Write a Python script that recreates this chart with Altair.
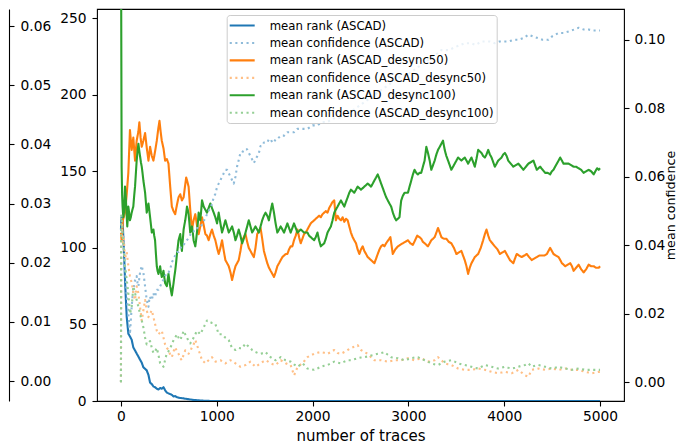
import altair as alt
import pandas as pd

SERIES = [
    "mean rank (ASCAD)",
    "mean confidence (ASCAD)",
    "mean rank (ASCAD_desync50)",
    "mean confidence (ASCAD_desync50)",
    "mean rank (ASCAD_desync100)",
    "mean confidence (ASCAD_desync100)",
]
COLORS = ["#1f77b4", "#8fbbd9", "#ff7f0e", "#ffbf86", "#2ca02c", "#95cf95"]
DASHES = [[1, 0], [2.1, 3.5], [1, 0], [2.1, 3.5], [1, 0], [2.1, 3.5]]

X_TICKS = [0, 1000, 2000, 3000, 4000, 5000]
RANK_TICKS = [0, 50, 100, 150, 200, 250]
CONF_TICKS = [0.0, 0.02, 0.04, 0.06, 0.08, 0.10]
SIDE_TICKS = [0.0, 0.01, 0.02, 0.03, 0.04, 0.05, 0.06]

# (number of traces, mean rank)
rank_ascad = [(0,112),(5,120),(17,118),(30,100),(45,75),(60,55),(77,44),(95,42),(112,40),(129,35),(147,33),(164,31),(182,29),(199,27),(217,25),(234,22),(252,21),(269,20),(287,17),(304,12),(322,11),(339,9.5),(356,9),(374,8),(391,7.5),(409,8.5),(426,8),(444,9),(461,7),(479,5.5),(496,5),(514,4.5),(531,4),(549,3),(566,3.2),(584,2.5),(601,2.2),(619,2),(654,1.7),(689,1.3),(723,1),(758,0.7),(793,0.5),(828,0.3),(863,0.2),(900,0.1),(950,0),(1000,0),(2000,0),(3000,0),(4000,0),(5000,0)]

rank_desync50 = [(0,110),(7,105),(20,118),(42,123),(60,135),(77,149),(94,177),(112,164),(129,172),(147,157),(164,170),(182,176),(192,182),(205,172),(217,166),(234,170),(252,175),(270,165),(287,157),(304,166),(322,160),(339,157),(356,163),(374,170),(390,178),(402,183),(414,176),(426,170),(444,165),(461,157),(479,158),(496,155),(514,140),(531,127),(549,124),(566,122),(584,128),(601,133),(619,135),(636,131),(654,133),(668,140),(681,146),(694,143),(706,140),(723,125),(741,112),(758,118),(776,122),(793,115),(811,109),(828,114),(846,120),(863,115),(881,109),(898,108),(915,105),(933,109),(950,112),(968,108),(985,105),(1003,100),(1020,96),(1038,100),(1055,105),(1073,98),(1090,92),(1108,90),(1125,88),(1143,84),(1160,79),(1178,84),(1195,88),(1212,90),(1229,92),(1247,98),(1265,105),(1282,107),(1300,109),(1317,104),(1334,100),(1352,98),(1369,96),(1387,94),(1404,100),(1422,109),(1440,111),(1457,113),(1474,106),(1492,98),(1509,94),(1527,90),(1545,87),(1562,85),(1580,83),(1597,81),(1614,84),(1632,88),(1650,90),(1667,92),(1685,94),(1702,95),(1720,96),(1737,96),(1754,99),(1771,101),(1789,101),(1806,105),(1824,108),(1842,112),(1859,107),(1876,103),(1894,106),(1911,109),(1928,110),(1946,112),(1963,114),(1981,116),(1998,117),(2016,118),(2033,119),(2051,120),(2068,121),(2086,120),(2103,122),(2121,123),(2138,124),(2156,123),(2173,126),(2191,128),(2208,130),(2226,131),(2243,118),(2261,121),(2278,119),(2296,118),(2313,120),(2331,117),(2348,119),(2366,118),(2383,114),(2400,110),(2418,107),(2435,105),(2453,103),(2470,99),(2488,96),(2505,99),(2523,101),(2540,98),(2558,96),(2575,94),(2593,93),(2610,92),(2628,91),(2645,90),(2663,93),(2680,96),(2698,99),(2715,101),(2733,102),(2750,101),(2767,103),(2790,105),(2812,107),(2837,96),(2863,99),(2890,101),(2915,102),(2942,103),(2970,104),(2995,105),(3020,103),(3047,102),(3070,105),(3092,108),(3115,107),(3134,106),(3150,104),(3169,103),(3187,102),(3204,101),(3222,103),(3239,105),(3257,106),(3274,107),(3292,110),(3309,113),(3327,110),(3344,107),(3370,106),(3396,106),(3420,104),(3448,103),(3475,100),(3501,96),(3527,97),(3553,98),(3570,95),(3588,92),(3606,88),(3623,83),(3640,87),(3658,90),(3676,92),(3693,94),(3710,95),(3728,96),(3755,100),(3780,105),(3798,109),(3815,112),(3833,108),(3850,105),(3876,103),(3902,101),(3930,99),(3955,96),(3980,97),(4007,98),(4033,95),(4060,92),(4077,91),(4095,90),(4112,93),(4130,96),(4156,95),(4182,94),(4210,95),(4235,96),(4260,94),(4287,92),(4313,93),(4340,94),(4366,95),(4392,95),(4418,95),(4445,96),(4462,98),(4479,100),(4497,98),(4514,96),(4540,95),(4567,94),(4585,92),(4602,90),(4620,89),(4637,88),(4663,89),(4689,90),(4707,88),(4724,85),(4750,87),(4777,89),(4803,86),(4829,84),(4855,86),(4881,89),(4908,88),(4934,88),(4960,87),(4986,87),(5000,88)]

rank_desync100 = [(0,320),(5,200),(7,153),(12,135),(17,127),(24,120),(31,123),(37,132),(42,140),(47,136),(52,131),(59,122),(66,114),(72,120),(77,127),(85,123),(94,118),(103,120),(112,123),(120,125),(129,127),(138,134),(147,140),(155,148),(164,157),(173,163),(182,168),(190,164),(199,160),(208,156),(217,153),(225,149),(234,144),(243,140),(252,136),(260,130),(269,123),(278,126),(287,129),(295,125),(304,120),(313,115),(322,110),(330,111),(339,112),(347,108),(356,105),(365,96),(374,88),(382,85),(391,83),(400,85),(409,88),(417,84),(426,81),(435,83),(444,85),(452,81),(461,77),(470,76),(479,75),(487,79),(496,83),(505,79),(514,75),(522,72),(531,69),(540,73),(549,77),(557,81),(566,85),(575,90),(584,96),(592,100),(601,105),(610,107),(619,109),(627,103),(636,98),(645,105),(654,112),(662,115),(671,118),(680,122),(689,127),(697,125),(706,122),(715,116),(723,110),(732,112),(741,114),(750,110),(758,105),(767,103),(776,101),(784,105),(793,110),(802,116),(811,123),(820,120),(828,118),(837,124),(846,131),(855,129),(863,127),(880,125),(898,123),(915,126),(933,129),(950,126),(968,123),(985,120),(1003,116),(1020,123),(1038,116),(1055,110),(1073,114),(1090,118),(1108,114),(1125,110),(1143,112),(1160,114),(1178,110),(1195,105),(1212,108),(1229,112),(1247,108),(1265,103),(1282,106),(1300,110),(1317,114),(1334,118),(1352,114),(1369,110),(1387,112),(1404,114),(1422,112),(1439,110),(1457,114),(1474,118),(1492,121),(1509,123),(1527,121),(1544,118),(1562,124),(1579,129),(1597,123),(1614,116),(1632,110),(1650,112),(1667,114),(1685,112),(1702,110),(1720,113),(1737,116),(1754,113),(1771,110),(1789,113),(1806,116),(1824,113),(1842,110),(1860,111),(1876,112),(1894,111),(1911,110),(1928,110),(1946,110),(1963,108),(1981,107),(1998,106),(2016,105),(2033,107),(2051,110),(2068,105),(2086,101),(2103,102),(2121,103),(2138,106),(2156,110),(2173,112),(2191,114),(2208,118),(2226,123),(2243,125),(2261,127),(2278,129),(2296,131),(2313,129),(2331,127),(2348,130),(2366,133),(2383,136),(2400,138),(2418,137),(2435,136),(2453,138),(2470,140),(2488,139),(2505,138),(2523,139),(2540,140),(2558,141),(2575,142),(2593,141),(2610,140),(2628,142),(2645,144),(2663,146),(2680,148),(2698,145),(2715,142),(2733,139),(2750,136),(2768,133),(2785,131),(2802,129),(2820,127),(2838,123),(2855,120),(2872,118),(2890,119),(2907,120),(2916,126),(2925,131),(2942,134),(2960,136),(2978,136),(2995,136),(3012,140),(3030,144),(3047,148),(3064,151),(3082,149),(3099,148),(3117,149),(3134,149),(3151,153),(3169,157),(3187,166),(3204,162),(3222,157),(3230,154),(3239,151),(3257,154),(3274,157),(3292,161),(3309,164),(3327,166),(3344,168),(3361,170),(3379,164),(3396,160),(3414,157),(3431,154),(3448,151),(3466,153),(3483,155),(3501,157),(3518,159),(3536,158),(3553,157),(3570,158),(3588,159),(3606,157),(3623,155),(3640,157),(3658,159),(3676,156),(3693,153),(3710,158),(3728,164),(3745,163),(3763,162),(3780,160),(3798,159),(3815,161),(3833,164),(3850,161),(3868,159),(3885,156),(3902,153),(3920,155),(3937,157),(3955,158),(3972,159),(3990,161),(4007,162),(4025,160),(4042,157),(4068,155),(4095,153),(4121,154),(4147,155),(4174,153),(4200,151),(4226,153),(4252,155),(4279,156),(4305,157),(4322,154),(4340,151),(4357,152),(4375,153),(4401,151),(4427,149),(4453,149),(4479,148),(4497,150),(4514,151),(4531,153),(4549,155),(4567,157),(4584,159),(4602,157),(4619,155),(4646,155),(4672,155),(4698,154),(4724,153),(4750,153),(4777,152),(4803,151),(4829,149),(4855,150),(4881,151),(4908,150),(4934,148),(4951,150),(4969,152),(4986,151),(5000,152)]

# (number of traces, mean confidence)
conf_ascad = [(0,0),(3,0.045),(10,0.044),(24,0.043),(37,0.036),(50,0.030),(64,0.024),(77,0.020),(94,0.014),(103,0.018),(112,0.022),(121,0.025),(130,0.027),(140,0.029),(150,0.030),(164,0.031),(173,0.029),(182,0.028),(190,0.030),(199,0.032),(208,0.033),(217,0.034),(225,0.033),(234,0.032),(243,0.030),(252,0.028),(260,0.026),(269,0.024),(278,0.023),(287,0.022),(295,0.024),(304,0.025),(313,0.024),(322,0.024),(330,0.025),(339,0.026),(348,0.025),(356,0.025),(365,0.026),(374,0.027),(391,0.027),(409,0.028),(426,0.029),(444,0.030),(461,0.031),(479,0.032),(496,0.032),(514,0.033),(531,0.035),(549,0.036),(566,0.037),(584,0.038),(601,0.038),(619,0.039),(636,0.040),(654,0.040),(671,0.041),(689,0.0415),(706,0.042),(723,0.043),(741,0.044),(758,0.044),(776,0.045),(793,0.045),(811,0.045),(828,0.0453),(846,0.046),(863,0.047),(881,0.048),(898,0.049),(915,0.050),(933,0.051),(950,0.052),(968,0.054),(985,0.055),(1003,0.057),(1020,0.058),(1038,0.059),(1055,0.060),(1073,0.061),(1090,0.062),(1108,0.062),(1125,0.061),(1143,0.060),(1160,0.059),(1177,0.058),(1195,0.060),(1212,0.063),(1230,0.065),(1247,0.067),(1265,0.067),(1282,0.068),(1300,0.068),(1317,0.068),(1334,0.067),(1352,0.066),(1370,0.065),(1387,0.064),(1404,0.065),(1422,0.066),(1440,0.067),(1457,0.069),(1474,0.069),(1492,0.070),(1509,0.070),(1527,0.070),(1545,0.071),(1562,0.071),(1580,0.070),(1597,0.070),(1614,0.071),(1632,0.071),(1667,0.072),(1702,0.072),(1737,0.073),(1771,0.073),(1806,0.073),(1842,0.074),(1894,0.074),(1946,0.074),(2000,0.075),(2051,0.075),(2100,0.076),(2156,0.076),(2210,0.077),(2260,0.077),(2330,0.0775),(2400,0.079),(2500,0.081),(2600,0.083),(2700,0.085),(2800,0.087),(2900,0.089),(3000,0.090),(3100,0.092),(3200,0.094),(3300,0.096),(3344,0.097),(3420,0.097),(3500,0.098),(3588,0.099),(3650,0.099),(3700,0.0985),(3763,0.0995),(3850,0.0995),(3900,0.099),(3950,0.0995),(4043,0.0995),(4100,0.100),(4150,0.100),(4200,0.1005),(4253,0.1015),(4300,0.101),(4350,0.1005),(4400,0.100),(4462,0.100),(4500,0.101),(4567,0.102),(4620,0.102),(4680,0.1025),(4730,0.103),(4777,0.1035),(4830,0.103),(4880,0.103),(4930,0.1027),(4986,0.1027),(5000,0.1027)]

conf_desync50 = [(0,0),(3,0.044),(10,0.046),(20,0.040),(30,0.042),(42,0.036),(60,0.038),(77,0.034),(94,0.031),(112,0.029),(130,0.026),(147,0.024),(164,0.028),(182,0.026),(199,0.022),(217,0.018),(234,0.021),(252,0.024),(269,0.021),(287,0.019),(304,0.020),(322,0.021),(339,0.019),(356,0.017),(374,0.015),(391,0.014),(409,0.0145),(426,0.015),(444,0.013),(461,0.011),(479,0.010),(496,0.0094),(514,0.008),(531,0.0073),(549,0.009),(566,0.0102),(584,0.009),(601,0.0083),(619,0.007),(636,0.0064),(654,0.008),(671,0.0093),(689,0.0088),(706,0.0083),(723,0.009),(741,0.0102),(758,0.011),(776,0.0123),(793,0.011),(811,0.0093),(828,0.008),(846,0.0064),(863,0.006),(881,0.0055),(898,0.006),(915,0.0064),(933,0.0068),(950,0.0073),(968,0.0066),(985,0.006),(1010,0.0062),(1038,0.0064),(1064,0.006),(1090,0.0055),(1117,0.006),(1143,0.0064),(1170,0.006),(1195,0.0055),(1221,0.005),(1247,0.0045),(1274,0.0048),(1300,0.005),(1326,0.0055),(1352,0.006),(1378,0.0052),(1404,0.0045),(1430,0.005),(1457,0.0055),(1483,0.006),(1509,0.0064),(1535,0.006),(1562,0.0055),(1588,0.0052),(1614,0.005),(1640,0.0057),(1667,0.0064),(1693,0.006),(1719,0.0055),(1745,0.0052),(1771,0.005),(1789,0.0035),(1806,0.002),(1824,0.003),(1842,0.0045),(1868,0.005),(1894,0.0055),(1920,0.0064),(1946,0.0073),(1981,0.0078),(2016,0.0083),(2051,0.0086),(2086,0.0088),(2121,0.0086),(2156,0.0083),(2191,0.0088),(2226,0.0094),(2261,0.0085),(2296,0.0083),(2331,0.0088),(2366,0.0094),(2400,0.0099),(2435,0.0104),(2470,0.0108),(2505,0.0094),(2540,0.0088),(2575,0.0083),(2610,0.0073),(2645,0.0064),(2680,0.0064),(2715,0.0064),(2750,0.0062),(2785,0.006),(2820,0.0062),(2855,0.0064),(2890,0.0064),(2925,0.0064),(2960,0.0067),(2995,0.007),(3030,0.0067),(3064,0.0064),(3099,0.0067),(3134,0.007),(3169,0.0065),(3204,0.006),(3239,0.0062),(3274,0.0064),(3309,0.0073),(3344,0.0064),(3379,0.0055),(3414,0.0052),(3448,0.005),(3483,0.0045),(3518,0.004),(3553,0.0038),(3588,0.0036),(3623,0.0036),(3658,0.0036),(3693,0.0038),(3728,0.004),(3763,0.0038),(3798,0.0036),(3833,0.0033),(3868,0.003),(3902,0.0028),(3937,0.0026),(3972,0.0028),(4007,0.003),(4042,0.0028),(4077,0.0026),(4112,0.003),(4147,0.0036),(4182,0.0028),(4217,0.002),(4252,0.0016),(4287,0.0036),(4322,0.0038),(4357,0.004),(4392,0.0038),(4427,0.0036),(4462,0.0038),(4497,0.004),(4532,0.0038),(4567,0.0036),(4602,0.0038),(4637,0.004),(4672,0.0038),(4707,0.0036),(4742,0.0036),(4777,0.0036),(4812,0.0033),(4846,0.003),(4881,0.0028),(4916,0.0026),(4951,0.0028),(4986,0.003),(5000,0.003)]

conf_desync100 = [(0,0),(2,0.049),(10,0.047),(20,0.042),(30,0.038),(42,0.034),(60,0.030),(77,0.026),(94,0.020),(112,0.022),(129,0.028),(147,0.026),(164,0.024),(182,0.022),(199,0.020),(217,0.018),(234,0.016),(252,0.013),(269,0.011),(287,0.0115),(304,0.012),(322,0.010),(339,0.0085),(356,0.009),(374,0.010),(391,0.008),(409,0.0055),(426,0.005),(444,0.0045),(461,0.0065),(479,0.0085),(496,0.009),(514,0.010),(531,0.011),(549,0.0123),(566,0.013),(584,0.014),(601,0.013),(619,0.0123),(636,0.0135),(654,0.015),(671,0.014),(689,0.013),(706,0.012),(723,0.0113),(741,0.012),(758,0.013),(776,0.014),(793,0.015),(811,0.0145),(828,0.014),(846,0.015),(863,0.016),(881,0.017),(898,0.018),(915,0.018),(933,0.0175),(950,0.0173),(968,0.0172),(985,0.017),(1003,0.0155),(1020,0.014),(1038,0.014),(1055,0.014),(1073,0.0135),(1090,0.013),(1108,0.0127),(1125,0.0123),(1143,0.011),(1160,0.010),(1178,0.0097),(1195,0.0094),(1212,0.0097),(1229,0.010),(1247,0.0099),(1265,0.0099),(1282,0.0106),(1300,0.0113),(1317,0.0108),(1334,0.0104),(1352,0.0099),(1369,0.0094),(1387,0.009),(1404,0.0088),(1430,0.0085),(1457,0.0083),(1483,0.0085),(1509,0.0088),(1535,0.008),(1562,0.0073),(1588,0.0068),(1614,0.0064),(1640,0.0068),(1667,0.0073),(1693,0.0068),(1719,0.0064),(1745,0.0062),(1771,0.006),(1806,0.0052),(1842,0.0045),(1868,0.005),(1894,0.0055),(1920,0.0048),(1946,0.004),(1981,0.0038),(2016,0.0036),(2051,0.004),(2086,0.0045),(2121,0.0048),(2156,0.005),(2191,0.0055),(2226,0.006),(2261,0.0057),(2296,0.0055),(2331,0.006),(2366,0.0064),(2400,0.0064),(2435,0.0067),(2470,0.007),(2505,0.0072),(2540,0.0073),(2575,0.0075),(2610,0.0078),(2645,0.008),(2680,0.0083),(2715,0.0085),(2750,0.0088),(2785,0.008),(2820,0.0073),(2855,0.0071),(2890,0.007),(2925,0.0067),(2960,0.0064),(2995,0.0067),(3030,0.007),(3064,0.0072),(3099,0.0073),(3134,0.0068),(3169,0.0064),(3204,0.006),(3239,0.0055),(3274,0.0052),(3309,0.005),(3344,0.0055),(3379,0.006),(3414,0.0062),(3448,0.0064),(3483,0.006),(3518,0.0055),(3553,0.0052),(3588,0.005),(3623,0.0048),(3658,0.0045),(3693,0.0042),(3728,0.004),(3763,0.0045),(3798,0.005),(3833,0.0048),(3868,0.0045),(3902,0.0042),(3937,0.004),(3972,0.0042),(4007,0.0045),(4042,0.0042),(4077,0.004),(4112,0.0042),(4147,0.0045),(4182,0.0048),(4217,0.005),(4252,0.0055),(4287,0.0045),(4322,0.0048),(4357,0.005),(4392,0.0048),(4427,0.0045),(4462,0.0042),(4497,0.004),(4532,0.0042),(4567,0.0045),(4602,0.0042),(4637,0.004),(4672,0.0038),(4707,0.0036),(4742,0.0038),(4777,0.004),(4812,0.0038),(4846,0.0036),(4881,0.0036),(4916,0.0036),(4951,0.0036),(4986,0.0036),(5000,0.0036)]

# neighbouring panel's axis (cropped at the left edge)
side_axis_values = [0.0, 0.06]

FONT = "DejaVu Sans"


def frame(points, name):
    return pd.DataFrame({
        "trace": [p[0] for p in points],
        "value": [p[1] for p in points],
        "series": name,
    })


color_enc = alt.Color("series:N", scale=alt.Scale(domain=SERIES, range=COLORS), title=None)
dash_enc = alt.StrokeDash("series:N", scale=alt.Scale(domain=SERIES, range=DASHES), title=None)

x_enc = alt.X(
    "trace:Q",
    scale=alt.Scale(domain=[-250, 5250], nice=False, zero=False),
    axis=alt.Axis(values=X_TICKS, format="d", title="number of traces",
                  titleFontSize=15, titleBaseline="alphabetic", titleY=39,
                  labelPadding=3),
)

rank_y = alt.Y(
    "value:Q",
    scale=alt.Scale(domain=[0, 256], nice=False, zero=False),
    axis=alt.Axis(values=RANK_TICKS, orient="left", title=None, labelPadding=6),
)

conf_y = alt.Y(
    "value:Q",
    scale=alt.Scale(domain=[-0.0055, 0.109], nice=False, zero=False),
    axis=alt.Axis(values=CONF_TICKS, orient="right", format=".2f",
                  title="mean confidence", titleFontSize=12.7, titleAngle=270,
                  titleBaseline="middle", titleAlign="center", titleX=46, titleY=196,
                  labelPadding=5),
)


def line(points, name, y_enc, width):
    return alt.Chart(frame(points, name)).mark_line(
        strokeWidth=width, clip=True, strokeCap="butt", strokeJoin="round"
    ).encode(x=x_enc, y=y_enc, color=color_enc, strokeDash=dash_enc)


rank_layer = alt.layer(
    line(rank_ascad, SERIES[0], rank_y, 2.1),
    line(rank_desync50, SERIES[2], rank_y, 2.1),
    line(rank_desync100, SERIES[4], rank_y, 2.1),
)

conf_layer = alt.layer(
    line(conf_ascad, SERIES[1], conf_y, 2.1),
    line(conf_desync50, SERIES[3], conf_y, 2.1),
    line(conf_desync100, SERIES[5], conf_y, 2.1),
)

side_axis = alt.Chart(pd.DataFrame({"v": side_axis_values})).mark_point(opacity=0).encode(
    y=alt.Y("v:Q",
            scale=alt.Scale(domain=[-0.00338, 0.0629], nice=False, zero=False),
            axis=alt.Axis(values=SIDE_TICKS, orient="right", offset=-615, format=".2f",
                          title=None, domain=True, domainColor="black", domainWidth=1.1,
                          labelPadding=6))
)

chart = alt.layer(rank_layer, conf_layer, side_axis).resolve_scale(
    y="independent"
).properties(
    width=527,
    height=392,
    autosize=alt.AutoSizeParams(type="none"),
    padding={"left": 89, "top": 1, "right": 55, "bottom": 44},
).configure_view(
    stroke="black", strokeWidth=1.1
).configure_axis(
    labelFont=FONT, labelFontSize=13.8, labelColor="black",
    titleFont=FONT, titleFontWeight="normal", titleColor="black",
    tickColor="black", tickSize=5, tickWidth=1.1,
    domain=False, grid=False,
).configure_legend(
    orient="none", legendX=129.7, legendY=6, padding=3,
    fillColor="rgba(255,255,255,0.8)", strokeColor="#cccccc", cornerRadius=3,
    labelFont=FONT, labelFontSize=11.7, labelColor="black", labelLimit=400,
    symbolType="M-2,0H2", symbolSize=156, symbolStrokeWidth=2.1,
    symbolOffset=5, labelOffset=20, rowPadding=2.45,
)

chart.save("out.html", embed_options={"renderer": "svg", "actions": False})
